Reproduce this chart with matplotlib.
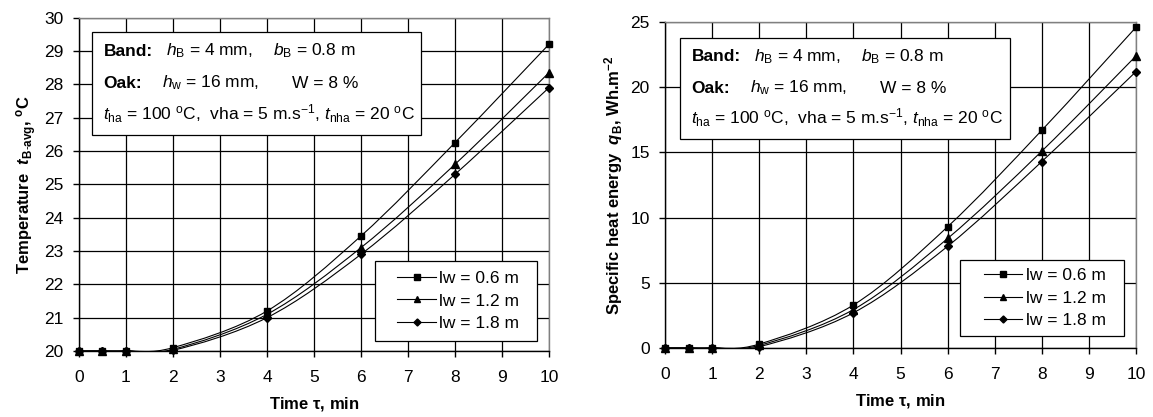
import numpy as np
import matplotlib
matplotlib.use('Agg')
import matplotlib.pyplot as plt
from matplotlib.path import Path
from matplotlib.patches import PathPatch, Rectangle
from matplotlib.lines import Line2D

plt.rcParams['font.family'] = ['Liberation Sans', 'DejaVu Sans']
plt.rcParams['mathtext.fontset'] = 'custom'
plt.rcParams['mathtext.rm'] = 'Liberation Sans'
plt.rcParams['mathtext.it'] = 'Liberation Sans:italic'
plt.rcParams['mathtext.bf'] = 'Liberation Sans:bold'
plt.rcParams['mathtext.bfit'] = 'Liberation Sans:bold:italic'

# data
t = [0, 0.5, 1, 2, 4, 6, 8, 10]
temp_06 = [20, 20, 20, 20.1, 21.2, 23.45, 26.25, 29.2]
temp_12 = [20, 20, 20, 20.05, 21.1, 23.1, 25.6, 28.35]
temp_18 = [20, 20, 20, 20.02, 21.0, 22.9, 25.3, 27.9]
heat_06 = [0, 0, 0, 0.3, 3.3, 9.3, 16.7, 24.6]
heat_12 = [0, 0, 0, 0.2, 2.95, 8.4, 15.1, 22.4]
heat_18 = [0, 0, 0, 0.1, 2.7, 7.8, 14.3, 21.2]
labels = ['lw = 0.6 m', 'lw = 1.2 m', 'lw = 1.8 m']
markers = ['s', '^', 'D']
msizes = [4.5, 5.5, 4.2]

# text box content: (offset in px from the text start, string, bold)
box_lines = [
    [(0, 'Band:', True), (63, r'$h_{\mathrm{B}}$ = 4 mm,', False),
     (170, r'$b_{\mathrm{B}}$ = 0.8 m', False)],
    [(0, 'Oak:', True), (59, r'$h_{\mathrm{w}}$ = 16 mm,', False),
     (189, 'W = 8 %', False)],
    [(0, r'$t_{\mathrm{ha}}$ = 100 $^{\mathrm{o}}$C,  vha = 5 m.s$^{-1}$, '
         r'$t_{\mathrm{nha}}$ = 20 $^{\mathrm{o}}$C', False)],
]


def smooth_path(x, y):
    # Excel-like smoothed line: cubic bezier segments through the points
    p = np.column_stack([x, y]).astype(float)
    n = len(p)
    verts = [p[0]]
    codes = [Path.MOVETO]
    for i in range(n - 1):
        p0 = p[i - 1] if i > 0 else p[i]
        p3 = p[i + 2] if i + 2 < n else p[i + 1]
        c1 = p[i] + (p[i + 1] - p0) / 6
        c2 = p[i + 1] - (p3 - p[i]) / 6
        verts += [c1, c2, p[i + 1]]
        codes += [Path.CURVE4] * 3
    return Path(verts, codes)


def draw_panel(ax, series, ylim, ystep, ylabel, box_y, leg_box):
    for y, m, ms in zip(series, markers, msizes):
        ax.add_patch(PathPatch(smooth_path(t, y), facecolor='none',
                               edgecolor='black', lw=0.8, zorder=3))
        ax.plot(t, y, ls='none', marker=m, ms=ms, color='black',
                zorder=4, clip_on=False)
    ax.set_xlim(0, 10)
    ax.set_ylim(*ylim)
    ax.set_xticks(range(0, 11))
    ax.set_yticks(np.arange(ylim[0], ylim[1] + 0.01, ystep))
    ax.grid(True, color='black', lw=0.9)
    ax.set_axisbelow(True)
    for s in ['top', 'right']:
        ax.spines[s].set_color('#808080')
    for s in ['left', 'bottom']:
        ax.spines[s].set_color('black')
    for s in ax.spines.values():
        s.set_linewidth(1.0)
    ax.tick_params(axis='both', direction='out', length=4, width=1,
                   labelsize=12.5, colors='black')
    ax.tick_params(axis='x', pad=10)
    ax.tick_params(axis='y', pad=7)
    ax.set_xlabel(r'Time $\mathbf{\tau}$, min', fontsize=12, fontweight='bold',
                  labelpad=7)
    ax.set_ylabel(ylabel, fontsize=12, fontweight='bold', labelpad=4)

    # parameter box
    x0, top = box_y
    ax_w = ax.get_position().width * fig.get_figwidth() * fig.dpi
    ax.add_patch(Rectangle((x0, top - 0.31), 0.70, 0.31, transform=ax.transAxes,
                           facecolor='white', edgecolor='black', lw=0.9,
                           zorder=5))
    for i, parts in enumerate(box_lines):
        for dx, s, bold in parts:
            ax.text(x0 + 0.024 + dx / ax_w, top - 0.072 - i * 0.096, s,
                    transform=ax.transAxes, fontsize=12.5, va='baseline',
                    ha='left', fontweight='bold' if bold else 'normal', zorder=6)

    # legend: frame drawn separately to get the wide side padding
    bx0, by0, bx1, by1, cx, cy = leg_box
    ax.add_patch(Rectangle((bx0, by0), bx1 - bx0, by1 - by0,
                           transform=ax.transAxes, facecolor='white',
                           edgecolor='black', lw=0.9, zorder=6))
    handles = [Line2D([], [], color='black', lw=0.8, marker=m, ms=ms * 0.85)
               for m, ms in zip(markers, msizes)]
    leg = ax.legend(handles, labels, loc='center', bbox_to_anchor=(cx, cy),
                    fontsize=12.5, frameon=False, handlelength=2.2,
                    borderaxespad=0, borderpad=0, labelspacing=0.42,
                    handletextpad=0.2)
    leg.set_zorder(7)


fig = plt.figure(figsize=(11.53, 4.17), dpi=100)
ax1 = fig.add_axes([0.0685, 0.1583, 0.4076, 0.7993])
ax2 = fig.add_axes([0.5768, 0.1655, 0.4085, 0.7818])

draw_panel(ax1, [temp_06, temp_12, temp_18], (20, 30), 1,
           r'Temperature  $\mathbfit{t}_{\mathbf{B\text{-}avg}}$, $^{\mathbf{o}}$C',
           (0.028, 0.958), (0.630, 0.030, 0.974, 0.270, 0.807, 0.150))
draw_panel(ax2, [heat_06, heat_12, heat_18], (0, 25), 5,
           r'Specific heat energy  $\mathbfit{q}_{\mathbf{B}}$, Wh.m$^{\mathbf{-2}}$',
           (0.032, 0.951), (0.626, 0.037, 0.975, 0.270, 0.806, 0.153))

fig.savefig('out.png', dpi=100)
